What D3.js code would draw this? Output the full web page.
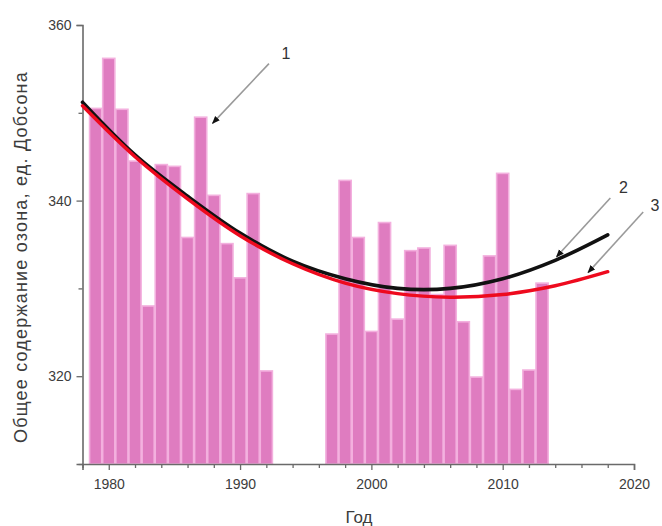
<!DOCTYPE html>
<html>
<head>
<meta charset="utf-8">
<script src="https://cdn.jsdelivr.net/npm/d3@7"></script>
<style>
  html, body { margin: 0; padding: 0; background: #fff; }
  svg { display: block; }
  text { font-family: "Liberation Sans", Arial, sans-serif; }
</style>
</head>
<body>
<svg id="chart" width="662" height="526"></svg>
<script>
// Annual mean total ozone, Dobson units
const years = [1979, 1980, 1981, 1982, 1983, 1984, 1985, 1986, 1987, 1988, 1989, 1990, 1991, 1992,
               1997, 1998, 1999, 2000, 2001, 2002, 2003, 2004, 2005, 2006, 2007, 2008, 2009, 2010, 2011, 2012, 2013];
const ozone = [350.5, 356.2, 350.4, 344.5, 328.0, 344.1, 343.9, 335.8, 349.5, 340.6, 335.1, 331.2, 340.8, 320.6,
               324.8, 342.3, 335.8, 325.1, 337.5, 326.5, 334.3, 334.6, 329.3, 334.9, 326.2, 319.9, 333.7, 343.1, 318.5, 320.7, 330.6];

// Trend curves (2 — black, 3 — red)
const trendYears = [1978, 1982, 1986, 1990, 1994, 1998, 2002, 2006, 2010, 2014, 2018];
const trendBlack = [351.2, 345.2, 340.5, 336.3, 333.1, 331.1, 330.0, 330.0, 331.1, 333.2, 336.1];
const trendRed   = [350.8, 345.0, 340.2, 336.0, 332.8, 330.6, 329.4, 329.0, 329.3, 330.3, 331.9];

// Axis ticks
const xMajorTicks = [1980, 1990, 2000, 2010, 2020];
const xMinorTicks = [1978, 1982, 1984, 1986, 1988, 1992, 1994, 1996, 1998, 2002, 2004, 2006, 2008, 2012, 2014, 2016, 2018];
const yMajorTicks = [320, 340, 360];
const yMinorTicks = [310, 330, 350];

// Numbered callouts: label, arrow tail and arrow head in data units
const callouts = [
  { label: "1", lx: 1993.5, ly: 356.6, x0: 1992.2, y0: 355.6, x1: 1987.9, y1: 348.8 },
  { label: "2", lx: 2019.2, ly: 341.4, x0: 2018.2, y0: 340.3, x1: 2014.1, y1: 333.6 },
  { label: "3", lx: 2021.6, ly: 339.3, x0: 2020.7, y0: 338.7, x1: 2016.5, y1: 331.8 }
];

const svg = d3.select("#chart");

const x = d3.scaleLinear().domain([1978, 2020]).range([82.5, 634]);
const y = d3.scaleLinear().domain([310, 360]).range([464, 25]);

const axisColor = "#6a6a6a";
const textColor = "#3c3c3c";

// Bars
const half = (x(1979) - x(1978)) / 2;
svg.append("g")
  .selectAll("rect")
  .data(years)
  .join("rect")
  .attr("x", (d) => x(d) - half + 0.5)
  .attr("width", 2 * half - 1)
  .attr("y", (d, i) => y(ozone[i]))
  .attr("height", (d, i) => y(310) - y(ozone[i]))
  .attr("fill", "#df7cc0")
  .attr("stroke", "#f3b0de")
  .attr("stroke-width", 1.6);

// Axes
const gx = svg.append("g").attr("transform", `translate(0,${y(310)})`);
gx.call(d3.axisBottom(x).tickValues(xMajorTicks).tickSize(6).tickPadding(9).tickFormat(d3.format("d")));
const gxMinor = svg.append("g").attr("transform", `translate(0,${y(310)})`);
gxMinor.call(d3.axisBottom(x).tickValues(xMinorTicks).tickSize(4).tickFormat(""));
gxMinor.select(".domain").remove();

const gy = svg.append("g").attr("transform", `translate(${x(1978)},0)`);
gy.call(d3.axisLeft(y).tickValues(yMajorTicks).tickSize(6).tickPadding(5).tickFormat(d3.format("d")));
const gyMinor = svg.append("g").attr("transform", `translate(${x(1978)},0)`);
gyMinor.call(d3.axisLeft(y).tickValues(yMinorTicks).tickSize(4).tickFormat(""));
gyMinor.select(".domain").remove();

svg.selectAll(".domain").attr("stroke", axisColor).attr("stroke-width", 1.6);
svg.selectAll(".tick line").attr("stroke", axisColor).attr("stroke-width", 1.3);
svg.selectAll(".tick text")
  .attr("fill", textColor)
  .style("font-size", "14px")
  .style("font-family", "'Liberation Sans', Arial, sans-serif");

// Trend curves
const line = d3.line()
  .x((d) => x(d[0]))
  .y((d) => y(d[1]))
  .curve(d3.curveCatmullRom.alpha(0.5));

svg.append("path")
  .datum(trendYears.map((t, i) => [t, trendBlack[i]]))
  .attr("d", line)
  .attr("fill", "none")
  .attr("stroke", "#111")
  .attr("stroke-width", 3.6)
  .attr("stroke-linecap", "round");

svg.append("path")
  .datum(trendYears.map((t, i) => [t, trendRed[i]]))
  .attr("d", line)
  .attr("fill", "none")
  .attr("stroke", "#ee0a1e")
  .attr("stroke-width", 3.4)
  .attr("stroke-linecap", "round");

// Callout arrows
const defs = svg.append("defs");
defs.append("marker")
  .attr("id", "head")
  .attr("viewBox", "0 0 10 10")
  .attr("refX", 9)
  .attr("refY", 5)
  .attr("markerWidth", 5)
  .attr("markerHeight", 5)
  .attr("markerUnits", "strokeWidth")
  .attr("orient", "auto")
  .append("path")
  .attr("d", "M0,1 L10,5 L0,9 Z")
  .attr("fill", "#111");

const cg = svg.append("g");
cg.selectAll("line")
  .data(callouts)
  .join("line")
  .attr("x1", (d) => x(d.x0))
  .attr("y1", (d) => y(d.y0))
  .attr("x2", (d) => x(d.x1))
  .attr("y2", (d) => y(d.y1))
  .attr("stroke", "#9a9a9a")
  .attr("stroke-width", 1.6)
  .attr("marker-end", "url(#head)");

cg.selectAll("text")
  .data(callouts)
  .join("text")
  .attr("x", (d) => x(d.lx))
  .attr("y", (d) => y(d.ly))
  .attr("text-anchor", "middle")
  .attr("dominant-baseline", "middle")
  .attr("fill", "#333")
  .style("font-size", "16px")
  .text((d) => d.label);

// Axis titles
svg.append("text")
  .attr("x", 359)
  .attr("y", 523)
  .attr("text-anchor", "middle")
  .attr("fill", textColor)
  .style("font-size", "17px")
  .text("Год");

svg.append("text")
  .attr("transform", `translate(27,257) rotate(-90)`)
  .attr("text-anchor", "middle")
  .attr("fill", textColor)
  .style("font-size", "18px")
  .style("letter-spacing", "1.2px")
  .text("Общее содержание озона, ед. Добсона");
</script>
</body>
</html>
